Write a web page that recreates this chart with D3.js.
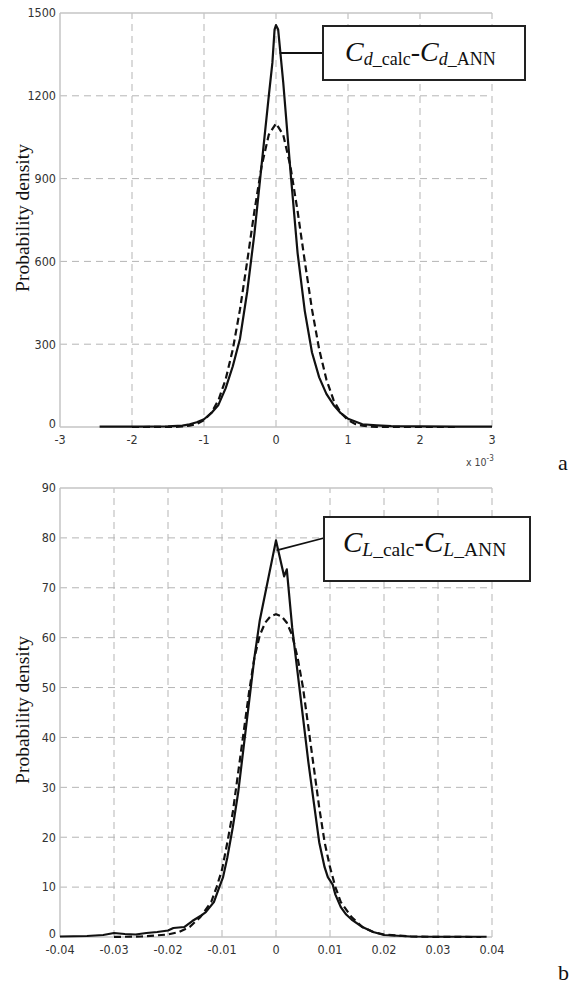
<!DOCTYPE html>
<html><head><meta charset="utf-8">
<script src="https://cdn.jsdelivr.net/npm/d3@7"></script>
<style>
body{margin:0;background:#fff;}
svg{display:block;}
</style></head>
<body>
<svg id="c" width="581" height="985"></svg>
<script>
// ---- Panel a: Cd_calc - Cd_ANN (x in units of 1e-3) ----
const aSolidX = [-2.45,-2.0,-1.5,-1.3,-1.2,-1.1,-1.0,-0.9,-0.8,-0.7,-0.6,-0.5,-0.4,-0.3,-0.2,-0.1,-0.05,-0.02,0,0.03,0.1,0.2,0.3,0.4,0.5,0.6,0.7,0.8,0.9,1.0,1.1,1.2,1.4,1.6,2.0,2.5,3.0];
const aSolidY = [1,1,2,5,10,17,28,50,80,140,220,320,490,700,950,1200,1320,1440,1456,1440,1250,930,630,420,270,180,120,80,50,30,20,10,6,3,2,1,1];
const aFitX = [-2.0,-1.5,-1.4,-1.3,-1.2,-1.1,-1.0,-0.9,-0.8,-0.7,-0.6,-0.5,-0.4,-0.3,-0.2,-0.1,0,0.1,0.2,0.3,0.4,0.5,0.6,0.7,0.8,0.9,1.0,1.1,1.2,1.3,1.4,1.5,2.0,2.5];
const aFitY = [0,0.2,0.6,1.8,4.7,11,25,51,97,172,281,426,600,782,945,1059,1100,1059,945,782,600,426,281,172,97,51,25,11,4.7,1.8,0.6,0.2,0,0];
const aXTicks = [-3,-2,-1,0,1,2,3];
const aYTicks = [0,300,600,900,1200,1500];

// ---- Panel b: CL_calc - CL_ANN ----
const bSolidX = [-0.04,-0.035,-0.032,-0.03,-0.028,-0.026,-0.024,-0.022,-0.02,-0.019,-0.017,-0.0155,-0.014,-0.013,-0.0115,-0.0105,-0.0098,-0.009,-0.008,-0.007,-0.006,-0.005,-0.004,-0.003,0,0.0015,0.002,0.003,0.004,0.005,0.006,0.007,0.008,0.009,0.0096,0.0105,0.011,0.012,0.013,0.014,0.016,0.018,0.02,0.025,0.03,0.039];
const bSolidY = [0.1,0.2,0.4,0.8,0.6,0.5,0.8,1.0,1.3,1.8,2.0,3.2,4.2,5,7,10,12,16,22,29,38,47,56,63.5,79.5,72.3,73.7,62,53,44,35,27,19,14,12,10.5,8.5,6,4.5,3.5,2,1,0.4,0.1,0.05,0.05];
const bFitX = [-0.03,-0.025,-0.02,-0.018,-0.016,-0.014,-0.012,-0.011,-0.01,-0.009,-0.008,-0.007,-0.006,-0.005,-0.004,-0.003,-0.002,-0.001,0,0.001,0.002,0.003,0.004,0.005,0.006,0.007,0.008,0.009,0.01,0.011,0.012,0.014,0.016,0.018,0.02,0.025,0.03,0.038];
const bFitY = [0.02,0.1,0.5,1,2,4,7,10,13.5,19,25,33,41,49,56,60.5,63,64.3,64.7,64.3,63,60.5,56,50,42,34,26,19,14,10,7,4,2,1,0.5,0.1,0.02,0];
const bXTicks = [-0.04,-0.03,-0.02,-0.01,0,0.01,0.02,0.03,0.04];
const bYTicks = [0,10,20,30,40,50,60,70,80,90];

const svg = d3.select("#c");
const tickFont = "'Liberation Sans Narrow','DejaVu Sans Condensed',sans-serif";
const serif = "'Liberation Serif','Times New Roman',serif";

function panel(cfg){
  const x = d3.scaleLinear().domain(cfg.xDom).range([60,492]);
  const y = d3.scaleLinear().domain(cfg.yDom).range([cfg.bottom,cfg.top]);
  const g = svg.append("g");
  // grid
  g.selectAll(".vg").data(cfg.xTicks.slice(1)).enter().append("line")
    .attr("x1",d=>x(d)).attr("x2",d=>x(d)).attr("y1",y(cfg.yDom[0])).attr("y2",y(cfg.yDom[1]))
    .attr("stroke","#b5b5b5").attr("stroke-width",1).attr("stroke-dasharray","7,5");
  g.selectAll(".hg").data(cfg.yTicks.slice(1,-1)).enter().append("line")
    .attr("y1",d=>y(d)).attr("y2",d=>y(d)).attr("x1",x(cfg.xDom[0])).attr("x2",x(cfg.xDom[1]))
    .attr("stroke","#b5b5b5").attr("stroke-width",1).attr("stroke-dasharray","7,5");
  // frame: left, bottom, top solid
  const fr = [[cfg.xDom[0],cfg.yDom[0],cfg.xDom[0],cfg.yDom[1]],[cfg.xDom[0],cfg.yDom[0],cfg.xDom[1],cfg.yDom[0]],[cfg.xDom[0],cfg.yDom[1],cfg.xDom[1],cfg.yDom[1]]];
  g.selectAll(".fr").data(fr).enter().append("line")
    .attr("x1",d=>x(d[0])).attr("y1",d=>y(d[1])).attr("x2",d=>x(d[2])).attr("y2",d=>y(d[3]))
    .attr("stroke","#c4c4c4").attr("stroke-width",1.5);
  // tick labels
  g.selectAll(".yl").data(cfg.yTicks).enter().append("text")
    .attr("x",56).attr("y",d=>y(d)-(d===0?3:0)).attr("dy","0.35em").attr("text-anchor","end")
    .attr("font-family",tickFont).attr("font-size",12.5).attr("fill","#333").text(d=>d);
  g.selectAll(".xl").data(cfg.xTicks).enter().append("text")
    .attr("x",d=>x(d)).attr("y",cfg.bottom+13).attr("dy","0.35em").attr("text-anchor","middle")
    .attr("font-family",tickFont).attr("font-size",12.5).attr("fill","#333").text(cfg.fmt);
  // curves
  const line = d3.line().x(d=>x(d[0])).y(d=>y(d[1]));
  g.append("path").datum(cfg.fitX.map((v,i)=>[v,cfg.fitY[i]])).attr("d",line)
    .attr("fill","none").attr("stroke","#111").attr("stroke-width",2.2).attr("stroke-dasharray","7,4");
  g.append("path").datum(cfg.solX.map((v,i)=>[v,cfg.solY[i]])).attr("d",line)
    .attr("fill","none").attr("stroke","#111").attr("stroke-width",2.2).attr("stroke-linejoin","round");
  // y label
  g.append("text").attr("transform",`translate(29,${cfg.labelY}) rotate(-90)`)
    .attr("text-anchor","middle").attr("font-family",serif).attr("font-size",19.5).attr("fill","#111")
    .text("Probability density");
  return {x,y,g};
}

function legend(g, box, leader, sym, textX, baseY, fs, ss){
  g.append("line").attr("x1",leader[0]).attr("y1",leader[1]).attr("x2",leader[2]).attr("y2",leader[3])
    .attr("stroke","#111").attr("stroke-width",1.8);
  g.append("rect").attr("x",box[0]).attr("y",box[1]).attr("width",box[2]-box[0]).attr("height",box[3]-box[1])
    .attr("fill","#fff").attr("stroke","#222").attr("stroke-width",2);
  const t = g.append("text").attr("x",textX).attr("y",baseY).attr("font-family",serif).attr("fill","#111").attr("font-size",fs);
  t.append("tspan").attr("font-style","italic").text("C");
  t.append("tspan").attr("font-style","italic").attr("font-size",ss).attr("dy",4).text(sym);
  t.append("tspan").attr("font-size",ss).text("_calc");
  t.append("tspan").attr("dy",-4).text("-");
  t.append("tspan").attr("font-style","italic").text("C");
  t.append("tspan").attr("font-style","italic").attr("font-size",ss).attr("dy",4).text(sym);
  t.append("tspan").attr("font-size",ss).text("_ANN");
}

const A = panel({xDom:[-3,3],yDom:[0,1500],top:13,bottom:427,xTicks:aXTicks,yTicks:aYTicks,
  fmt:d=>String(d),solX:aSolidX,solY:aSolidY,fitX:aFitX,fitY:aFitY,labelY:218});
legend(A.g,[323,26,525,80],[A.x(0.05),53,323,53],"d",345,61,28,18);
const ex = A.g.append("text").attr("x",466).attr("y",466).attr("font-family",tickFont).attr("font-size",10.5).attr("fill","#444");
ex.append("tspan").text("x 10");
ex.append("tspan").attr("dy",-5).attr("font-size",8).text("-3");
svg.append("text").attr("x",558).attr("y",470).attr("font-family",serif).attr("font-size",22).attr("fill","#111").text("a");

const B = panel({xDom:[-0.04,0.04],yDom:[0,90],top:488,bottom:937,xTicks:bXTicks,yTicks:bYTicks,
  fmt:d=>d===0?"0":d.toFixed(2),solX:bSolidX,solY:bSolidY,fitX:bFitX,fitY:bFitY,labelY:710});
legend(B.g,[324,517,530,581],[B.x(0.0001),B.y(77.5),324,538],"L",343,552,29,19.5);
svg.append("text").attr("x",558).attr("y",980).attr("font-family",serif).attr("font-size",22).attr("fill","#111").text("b");
</script>
</body></html>
